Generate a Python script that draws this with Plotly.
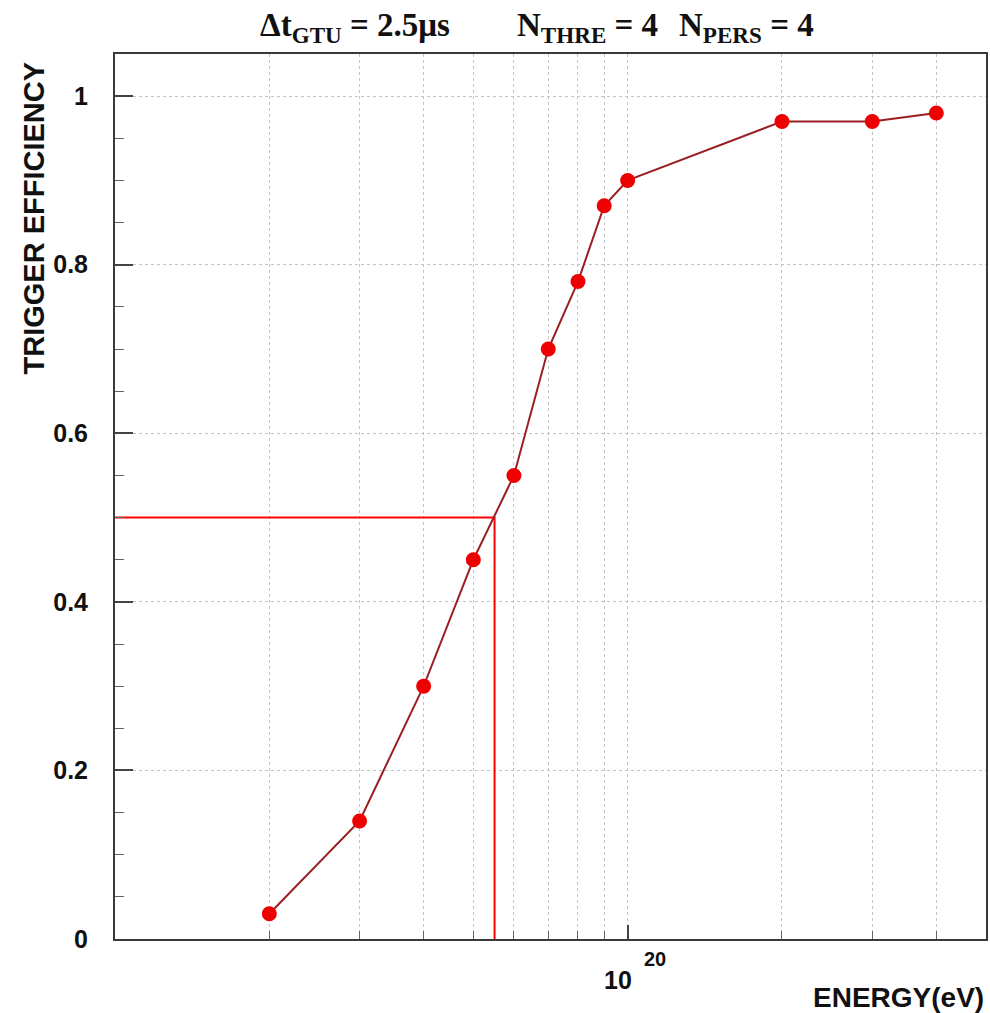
import math
import plotly.graph_objects as go

# ---- data ----
energy_ev = [2e19, 3e19, 4e19, 5e19, 6e19, 7e19, 8e19, 9e19, 1e20, 2e20, 3e20, 4e20]
trigger_eff = [0.03, 0.14, 0.30, 0.45, 0.55, 0.70, 0.78, 0.87, 0.90, 0.97, 0.97, 0.98]

thr_line_x = [1e19, 5.5e19, 5.5e19]
thr_line_y = [0.5, 0.5, 0.0]

x_major_vals = [1e20]
x_major_base = "10"
x_major_exp = "20"
x_minor_vals = [2e19, 3e19, 4e19, 5e19, 6e19, 7e19, 8e19, 9e19, 2e20, 3e20, 4e20]

y_tick_vals = [0, 0.2, 0.4, 0.6, 0.8, 1.0]
y_tick_text = ["0", "0.2", "0.4", "0.6", "0.8", "1"]

x_range = [1e19, 5e20]
y_range = [0, 1.05]

title_parts = [
    ("Δt<sub>GTU</sub> = 2.5μs", 356),
    ("N<sub>THRE</sub> = 4", 589),
    ("N<sub>PERS</sub> = 4", 748),
]

# ---- figure ----
W, H = 990, 1013
ML, MR, MT, MB = 115, 2, 54, 74
PW = W - ML - MR

fig = go.Figure()
fig.add_trace(go.Scatter(
    x=thr_line_x, y=thr_line_y, mode="lines",
    line=dict(color="#ff0000", width=2), showlegend=False, hoverinfo="skip",
))
fig.add_trace(go.Scatter(
    x=energy_ev, y=trigger_eff, mode="lines+markers",
    line=dict(color="#9a1f22", width=2),
    marker=dict(color="#ee0000", size=15, line=dict(width=0)),
    showlegend=False,
))

axis_font = dict(family="Liberation Sans", size=25, color="#111111", weight="bold")
grid = dict(gridcolor="#c4c4c4", griddash="dot", gridwidth=1)

fig.update_xaxes(
    type="log", range=[math.log10(x_range[0]), math.log10(x_range[1])],
    tickmode="array", tickvals=x_major_vals, ticktext=[""] * len(x_major_vals),
    ticks="inside", ticklen=14, tickwidth=1.5, tickcolor="#444444",
    showgrid=True, **grid,
    minor=dict(tickmode="array", tickvals=x_minor_vals, ticks="inside", ticklen=8,
               tickwidth=1, tickcolor="#666666", showgrid=True, **grid),
    showline=True, linecolor="#3a3a3a", linewidth=2, mirror=True,
    zeroline=False,
)
fig.update_yaxes(
    range=y_range, tickmode="array", tickvals=y_tick_vals, ticktext=y_tick_text,
    ticks="inside", ticklen=18, tickwidth=1.5, tickcolor="#444444",
    showgrid=True, **grid,
    minor=dict(dtick=0.05, ticks="inside", ticklen=9, tickwidth=1, tickcolor="#666666",
               showgrid=False),
    showline=True, linecolor="#3a3a3a", linewidth=2, mirror=True,
    tickfont=axis_font, ticklabelstandoff=20, zeroline=False,
)

annotations = []
for txt, px in title_parts:
    annotations.append(dict(
        text=txt, xref="paper", yref="paper", x=(px - ML) / PW, y=1,
        xanchor="center", yanchor="bottom", yshift=4, showarrow=False,
        font=dict(family="Liberation Serif", size=33, color="#111111", weight="bold"),
    ))
# tick label 10^20 under the major tick
for xv in x_major_vals:
    annotations.append(dict(
        text=x_major_base, xref="x", yref="paper", x=math.log10(xv), y=0,
        xanchor="center", yanchor="middle", xshift=-10, yshift=-41, showarrow=False,
        font=dict(family="Liberation Sans", size=25, color="#111111", weight="bold"),
    ))
    annotations.append(dict(
        text=x_major_exp, xref="x", yref="paper", x=math.log10(xv), y=0,
        xanchor="center", yanchor="middle", xshift=27, yshift=-20, showarrow=False,
        font=dict(family="Liberation Sans", size=20, color="#111111", weight="bold"),
    ))
annotations.append(dict(
    text="ENERGY(eV)", xref="paper", yref="paper", x=1, y=0,
    xanchor="right", yanchor="middle", yshift=-58, showarrow=False,
    font=dict(family="Liberation Sans", size=28, color="#111111", weight="bold"),
))
annotations.append(dict(
    text="TRIGGER EFFICIENCY", xref="paper", yref="paper", x=0, y=1,
    xanchor="center", yanchor="top", xshift=-(ML - 33), yshift=-6, textangle=-90,
    showarrow=False,
    font=dict(family="Liberation Sans", size=29, color="#111111", weight="bold"),
))

fig.update_layout(
    width=W, height=H, margin=dict(l=ML, r=MR, t=MT, b=MB),
    paper_bgcolor="white", plot_bgcolor="white",
    annotations=annotations,
)

fig.write_html("out.html")
